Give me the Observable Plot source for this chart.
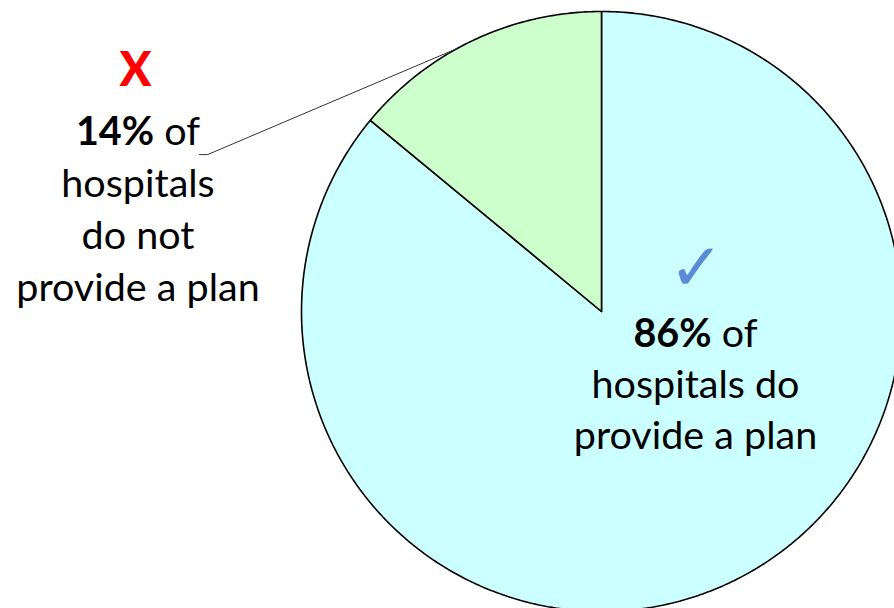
<!DOCTYPE html>
<html>
<head>
<meta charset="utf-8">
<script src="https://cdn.jsdelivr.net/npm/d3@7"></script>
<script src="https://cdn.jsdelivr.net/npm/@observablehq/plot@0.6"></script>
<style>
  html, body { margin: 0; padding: 0; background: #ffffff; }
  #chart { width: 894px; height: 608px; overflow: hidden; }
</style>
</head>
<body>
<div id="chart"></div>
<script>
// ---- data ----
const categories = ["do provide a plan", "do not provide a plan"];
const shares = [86, 14];
const labelLines = [
  "86% of\nhospitals do\nprovide a plan",
  "14% of\nhospitals\ndo not\nprovide a plan"
];
const markers = ["✓", "X"];
const sliceColors = ["#ccffff", "#ccffcc"];

// ---- build slices (unit circle, angles clockwise from 12 o'clock) ----
const pie = d3.pie().sort(null).value(d => d.value);
const arcs = pie(categories.map((c, i) => ({category: c, value: shares[i]})));
const slicePts = [];
arcs.forEach(a => {
  const cat = a.data.category;
  slicePts.push({category: cat, x: 0, y: 0});
  const steps = Math.max(2, Math.ceil((a.endAngle - a.startAngle) / (Math.PI / 360)));
  for (let k = 0; k <= steps; k++) {
    const t = a.startAngle + (a.endAngle - a.startAngle) * k / steps;
    slicePts.push({category: cat, x: Math.sin(t), y: Math.cos(t)});
  }
  slicePts.push({category: cat, x: 0, y: 0});
});

// leader from the small slice's outer edge to its label
const small = arcs[1];
const la = small.startAngle + (small.endAngle - small.startAngle) * 0.43;
const leader = [
  {x: -1.340, y: 0.523},
  {x: -1.313, y: 0.523},
  {x: Math.sin(la), y: Math.cos(la)}
];

const font = "Lato, 'Open Sans', sans-serif";

const chart = Plot.plot({
  width: 894,
  height: 608,
  margin: 0,
  style: {background: "#ffffff", overflow: "hidden"},
  x: {domain: [-601 / 300, 293 / 300], axis: null},
  y: {domain: [-297 / 300, 311 / 300], axis: null},
  color: {domain: categories, range: sliceColors},
  marks: [
    Plot.line(slicePts, {
      x: "x", y: "y", z: "category", fill: "category",
      stroke: "#000000", strokeWidth: 1.6, strokeLinejoin: "miter", curve: "linear"
    }),
    Plot.line(leader, {x: "x", y: "y", stroke: "#333333", strokeWidth: 1}),
    Plot.text([labelLines[1]], {
      x: -1.545, y: (311 - 300.5) / 300, text: d => d,
      textAnchor: "middle", lineAnchor: "bottom", lineHeight: 52 / 39.5,
      fontSize: 39.5, fontFamily: font, fill: "#000000"
    }),
    Plot.text([labelLines[0]], {
      x: (695 - 601) / 300, y: (311 - 448) / 300, text: d => d,
      textAnchor: "middle", lineAnchor: "bottom", lineHeight: 51 / 39.5,
      fontSize: 39.5, fontFamily: font, fill: "#000000"
    }),
    Plot.text([markers[1]], {
      x: (135 - 601) / 300, y: (311 - 70) / 300, text: d => d,
      textAnchor: "middle", lineAnchor: "middle",
      fontSize: 47, fontWeight: 900, fontFamily: font, fill: "#ff0000"
    }),
    Plot.text([markers[0]], {
      x: (696 - 601) / 300, y: (311 - 268) / 300, text: d => d,
      textAnchor: "middle", lineAnchor: "middle",
      fontSize: 66, fontWeight: "bold", fontFamily: "'DejaVu Sans', sans-serif", fill: "#5b8bd6"
    })
  ]
});

// bold the percentage at the start of a label line
d3.select(chart).selectAll("tspan").each(function () {
  const m = this.textContent.match(/^(\d+%)(.*)$/);
  if (m) {
    const el = d3.select(this);
    el.text("");
    el.append("tspan").attr("font-weight", "bold").text(m[1]);
    el.append("tspan").text(m[2]);
  }
});

document.getElementById("chart").appendChild(chart);
</script>
</body>
</html>
